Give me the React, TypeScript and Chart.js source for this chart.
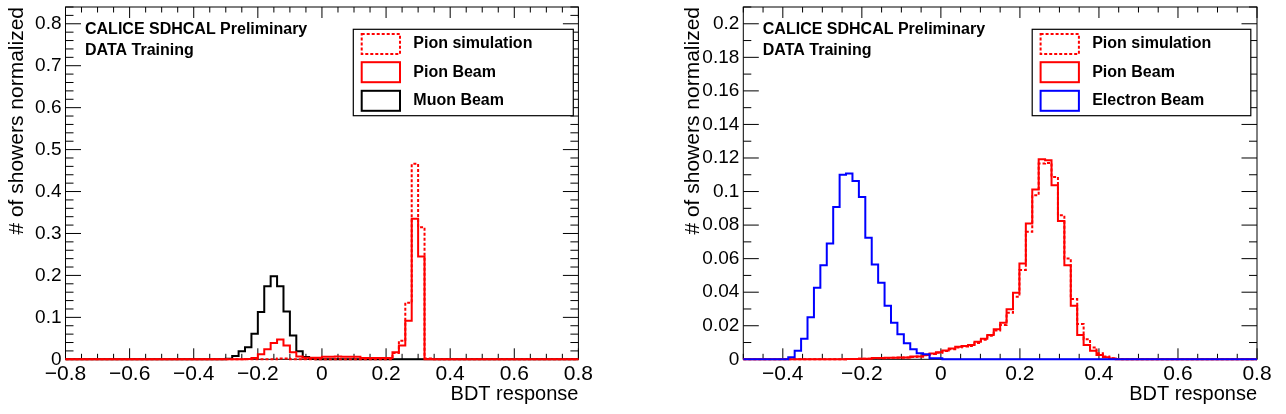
import Chart from 'chart.js/auto';
import { useEffect, useRef } from 'react';

// ---------- left pad : pion vs muon, 80 bins on [-0.8, 0.8] ----------
const leftXRange = [-0.8, 0.8];
const leftYMax = 0.84;
const leftXTicks = [-0.8, -0.6, -0.4, -0.2, 0, 0.2, 0.4, 0.6, 0.8];
const leftYTicks = [0, 0.1, 0.2, 0.3, 0.4, 0.5, 0.6, 0.7, 0.8];
const leftLegend = ['Pion simulation', 'Pion Beam', 'Muon Beam'];

const leftPionSim = [
  0, 0, 0, 0, 0, 0, 0, 0, 0, 0,
  0, 0, 0, 0, 0, 0, 0, 0, 0, 0,
  0, 0, 0, 0, 0, 0, 0, 0, 0, 0,
  0, 0, 0, 0.002, 0.002, 0, 0, 0, 0, 0,
  0, 0, 0, 0, 0, 0, 0, 0, 0, 0,
  0, 0.015, 0.044, 0.135, 0.466, 0.315, 0.002, 0, 0, 0,
  0, 0, 0, 0, 0, 0, 0, 0, 0, 0,
  0, 0, 0, 0, 0, 0, 0, 0, 0, 0,
];
const leftPionBeam = [
  0, 0, 0, 0, 0, 0, 0, 0, 0, 0,
  0, 0, 0, 0, 0, 0, 0, 0, 0, 0,
  0, 0, 0, 0, 0, 0, 0, 0, 0.0008, 0.003,
  0.012, 0.024, 0.039, 0.047, 0.033, 0.017, 0.0065, 0.0035, 0.0035, 0.0035,
  0.0063, 0.0063, 0.0064, 0.0062, 0.0063, 0.0063, 0.0032, 0.003, 0.003, 0.0031,
  0.003, 0.017, 0.033, 0.092, 0.335, 0.245, 0, 0, 0, 0,
  0, 0, 0, 0, 0, 0, 0, 0, 0, 0,
  0, 0, 0, 0, 0, 0, 0, 0, 0, 0,
];
const leftMuonBeam = [
  0, 0, 0, 0, 0, 0, 0, 0, 0, 0,
  0, 0, 0, 0, 0, 0, 0, 0, 0, 0,
  0, 0, 0, 0, 0, 0.0016, 0.0079, 0.019, 0.029, 0.061,
  0.113, 0.174, 0.198, 0.174, 0.114, 0.057, 0.019, 0.0056, 0.0016, 0,
  0, 0, 0, 0, 0, 0, 0, 0, 0, 0,
  0, 0, 0, 0, 0, 0, 0, 0, 0, 0,
  0, 0, 0, 0, 0, 0, 0, 0, 0, 0,
  0, 0, 0, 0, 0, 0, 0, 0, 0, 0,
];

// ---------- right pad : pion vs electron, 80 bins on [-0.5, 0.8] ----------
const rightXRange = [-0.5, 0.8];
const rightYMax = 0.21;
const rightXTicks = [-0.4, -0.2, 0, 0.2, 0.4, 0.6, 0.8];
const rightYTicks = [0, 0.02, 0.04, 0.06, 0.08, 0.1, 0.12, 0.14, 0.16, 0.18, 0.2];
const rightLegend = ['Pion simulation', 'Pion Beam', 'Electron Beam'];

const rightPionSim = [
  0, 0, 0, 0, 0, 0, 0, 0, 0, 0,
  0, 0, 0, 0, 0, 0, 0.0002, 0.0002, 0.0003, 0.0003,
  0.0007, 0.0007, 0.0008, 0.0009, 0.0009, 0.001, 0.0014, 0.0016, 0.0024, 0.0031,
  0.0039, 0.0049, 0.006, 0.0071, 0.0076, 0.008, 0.0097, 0.0117, 0.014, 0.0172,
  0.0205, 0.0277, 0.0373, 0.0532, 0.076, 0.0978, 0.1167, 0.117, 0.1087, 0.0859,
  0.0601, 0.0359, 0.021, 0.0119, 0.0071, 0.0036, 0.0016, 0.0006, 0.0002, 0,
  0, 0, 0, 0, 0, 0, 0, 0, 0, 0,
  0, 0, 0, 0, 0, 0, 0, 0, 0, 0,
];
const rightPionBeam = [
  0, 0, 0, 0, 0, 0, 0, 0, 0, 0,
  0, 0, 0, 0, 0, 0, 0.0002, 0.0002, 0.0003, 0.0003,
  0.0008, 0.0008, 0.0009, 0.0009, 0.001, 0.001, 0.0016, 0.0016, 0.0026, 0.0034,
  0.0042, 0.0052, 0.0065, 0.0075, 0.0079, 0.0085, 0.0105, 0.0123, 0.0145, 0.0179,
  0.0218, 0.0298, 0.0397, 0.0571, 0.081, 0.1012, 0.1192, 0.1186, 0.1037, 0.0825,
  0.0561, 0.0319, 0.0145, 0.0085, 0.0051, 0.0026, 0.0012, 0.0005, 0, 0,
  0, 0, 0, 0, 0, 0, 0, 0, 0, 0,
  0, 0, 0, 0, 0, 0, 0, 0, 0, 0,
];
const rightElectronBeam = [
  0, 0, 0, 0, 0, 0, 0, 0.0012, 0.0051, 0.0123,
  0.025, 0.0426, 0.0561, 0.069, 0.0908, 0.11, 0.1107, 0.1063, 0.0968, 0.0724,
  0.0565, 0.0456, 0.0319, 0.0218, 0.015, 0.0095, 0.006, 0.0036, 0.003, 0.0006,
  0.0006, 0, 0, 0, 0, 0, 0, 0, 0, 0,
  0, 0, 0, 0, 0, 0, 0, 0, 0, 0,
  0, 0, 0, 0, 0, 0, 0, 0, 0, 0,
  0, 0, 0, 0, 0, 0, 0, 0, 0, 0,
  0, 0, 0, 0, 0, 0, 0, 0, 0, 0,
];

const headerLines = ['CALICE SDHCAL Preliminary', 'DATA Training'];
const xTitle = 'BDT response';
const yTitle = '# of showers normalized';

const FONT = "'Liberation Sans', Arial, Helvetica, sans-serif";

type Series = { label: string; values: number[]; color: string; dashed: boolean; order: number };

type PanelCfg = {
  canvasLeft: number;
  canvasWidth: number;
  areaLeft: number; // width of the y axis box
  padRight: number;
  xRange: number[];
  yMax: number;
  xTicks: number[];
  yTicks: number[];
  xMinor: number;
  yMinor: number;
  series: Series[];
  legendWidth: number;
  legendInset: number;
};

// histogram outline: one point per lower bin edge, closing point at the upper edge
const toSteps = (values: number[], lo: number, hi: number) => {
  const w = (hi - lo) / values.length;
  const pts = values.map((v, i) => ({ x: lo + i * w, y: v }));
  pts.push({ x: hi, y: 0 });
  return pts;
};

const fmtTick = (v: number) => {
  const r = Math.round(v * 1000) / 1000;
  if (r === 0) return '0';
  return (r < 0 ? '\u2212' : '') + String(Math.abs(r));
};

const makeOverlay = (cfg: PanelCfg) => ({
  id: 'rootOverlay',
  beforeDatasetsDraw(chart: any) {
    const { ctx, chartArea: a } = chart;
    const sx = chart.scales.x;
    const sy = chart.scales.y;
    const near = (v: number, list: number[]) => list.some((m) => Math.abs(m - v) < 1e-6);
    ctx.save();
    ctx.strokeStyle = '#000';
    ctx.lineWidth = 1;
    ctx.setLineDash([]);
    ctx.beginPath();
    // ticks along bottom / top (inside the frame)
    for (let n = Math.ceil(sx.min / cfg.xMinor - 1e-6); n * cfg.xMinor <= sx.max + 1e-6; n++) {
      const v = n * cfg.xMinor;
      const px = sx.getPixelForValue(v);
      const len = near(v, cfg.xTicks) ? 11 : 5.5;
      ctx.moveTo(px, a.bottom);
      ctx.lineTo(px, a.bottom - len);
      ctx.moveTo(px, a.top);
      ctx.lineTo(px, a.top + len);
    }
    // ticks along left / right
    for (let n = 0; n * cfg.yMinor <= sy.max + 1e-6; n++) {
      const v = n * cfg.yMinor;
      const py = sy.getPixelForValue(v);
      const len = near(v, cfg.yTicks) ? 15.5 : 8;
      ctx.moveTo(a.left, py);
      ctx.lineTo(a.left + len, py);
      ctx.moveTo(a.right, py);
      ctx.lineTo(a.right - len, py);
    }
    ctx.stroke();
    ctx.strokeRect(a.left, a.top, a.right - a.left, a.bottom - a.top);
    ctx.restore();
  },
  afterDraw(chart: any) {
    const { ctx, chartArea: a } = chart;
    ctx.save();
    ctx.fillStyle = '#000';
    ctx.font = `bold 16px ${FONT}`;
    ctx.textBaseline = 'middle';
    ctx.textAlign = 'left';
    ctx.fillText(headerLines[0], a.left + 19.5, 29.2);
    ctx.fillText(headerLines[1], a.left + 19.5, 50.3);

    // legend
    const bx = a.right - cfg.legendInset - cfg.legendWidth;
    const by = 29.3;
    ctx.fillStyle = '#fff';
    ctx.fillRect(bx, by, cfg.legendWidth, 86.4);
    ctx.strokeStyle = '#000';
    ctx.lineWidth = 1.2;
    ctx.strokeRect(bx, by, cfg.legendWidth, 86.4);
    const rowY = [14.7, 42.9, 71.5];
    cfg.series.forEach((s, i) => {
      const cy = by + rowY[i];
      ctx.strokeStyle = s.color;
      ctx.lineWidth = 2;
      ctx.setLineDash(s.dashed ? [3, 2] : []);
      ctx.strokeRect(bx + 8.4, cy - 10, 38.3, 20);
      ctx.setLineDash([]);
      ctx.fillStyle = '#000';
      ctx.fillText(s.label, bx + 60, cy);
    });
    ctx.restore();
  },
});

const Panel = ({ cfg }: { cfg: PanelCfg }) => {
  const chartRef = useRef<HTMLCanvasElement | null>(null);

  useEffect(() => {
    if (!chartRef.current) return;
    const [lo, hi] = cfg.xRange;

    const chartInstance = new Chart(chartRef.current, {
      type: 'line',
      data: {
        datasets: cfg.series.map((s) => ({
          label: s.label,
          data: toSteps(s.values, lo, hi),
          borderColor: s.color,
          borderWidth: 2,
          borderDash: s.dashed ? [3, 2] : [],
          stepped: 'before', // horizontal at the bin value, then the vertical edge
          pointRadius: 0,
          fill: false,
          clip: false,
          order: s.order,
        })),
      },
      options: {
        animation: false,
        responsive: false,
        maintainAspectRatio: false,
        layout: { padding: { top: 7, right: cfg.padRight, bottom: 0, left: 0 } },
        plugins: {
          legend: { display: false },
          tooltip: { enabled: false },
        },
        scales: {
          x: {
            type: 'linear',
            min: lo,
            max: hi,
            bounds: 'data',
            grid: { display: false, drawTicks: false },
            border: { display: false },
            afterBuildTicks: (scale: any) => {
              scale.ticks = cfg.xTicks.map((value) => ({ value }));
            },
            afterFit: (scale: any) => {
              scale.height = 54.7;
              scale.paddingLeft = 0;
              scale.paddingRight = 0;
            },
            ticks: {
              color: '#000',
              font: { family: FONT, size: 21 },
              padding: 2,
              autoSkip: false,
              maxRotation: 0,
              minRotation: 0,
              callback: (v: any) => fmtTick(Number(v)),
            },
            title: {
              display: true,
              text: xTitle,
              align: 'end',
              color: '#000',
              font: { family: FONT, size: 20 },
              padding: { top: 0, bottom: 8 },
            },
          },
          y: {
            type: 'linear',
            min: 0,
            max: cfg.yMax,
            bounds: 'data',
            grid: { display: false, drawTicks: false },
            border: { display: false },
            afterBuildTicks: (scale: any) => {
              scale.ticks = cfg.yTicks.map((value) => ({ value }));
            },
            afterFit: (scale: any) => {
              scale.width = cfg.areaLeft;
              scale.paddingTop = 0;
              scale.paddingBottom = 0;
            },
            ticks: {
              color: '#000',
              font: { family: FONT, size: 19 },
              padding: 4,
              autoSkip: false,
              callback: (v: any) => fmtTick(Number(v)),
            },
            title: {
              display: true,
              text: yTitle,
              align: 'end',
              color: '#000',
              font: { family: FONT, size: 21 },
              padding: { top: 5, bottom: 0 },
            },
          },
        },
      },
      plugins: [makeOverlay(cfg)],
    } as any);

    return () => {
      chartInstance.destroy();
    };
  }, [cfg]);

  return (
    <canvas
      ref={chartRef}
      width={cfg.canvasWidth}
      height={414}
      style={{ position: 'absolute', left: cfg.canvasLeft, top: 0, width: cfg.canvasWidth, height: 414 }}
    ></canvas>
  );
};

const leftCfg: PanelCfg = {
  canvasLeft: 0,
  canvasWidth: 640,
  areaLeft: 65.5,
  padRight: 61.6,
  xRange: leftXRange,
  yMax: leftYMax,
  xTicks: leftXTicks,
  yTicks: leftYTicks,
  xMinor: 0.05,
  yMinor: 0.02,
  series: [
    { label: leftLegend[0], values: leftPionSim, color: '#ff0000', dashed: true, order: 2 },
    { label: leftLegend[1], values: leftPionBeam, color: '#ff0000', dashed: false, order: 1 },
    { label: leftLegend[2], values: leftMuonBeam, color: '#000000', dashed: false, order: 3 },
  ],
  legendWidth: 220,
  legendInset: 5.1,
};

const rightCfg: PanelCfg = {
  canvasLeft: 676,
  canvasWidth: 610,
  areaLeft: 67.3,
  padRight: 29,
  xRange: rightXRange,
  yMax: rightYMax,
  xTicks: rightXTicks,
  yTicks: rightYTicks,
  xMinor: 0.05,
  yMinor: 0.01,
  series: [
    { label: rightLegend[0], values: rightPionSim, color: '#ff0000', dashed: true, order: 2 },
    { label: rightLegend[1], values: rightPionBeam, color: '#ff0000', dashed: false, order: 3 },
    { label: rightLegend[2], values: rightElectronBeam, color: '#0000ff', dashed: false, order: 1 },
  ],
  legendWidth: 218.6,
  legendInset: 6.2,
};

const App = () => (
  <div style={{ position: 'absolute', left: 0, top: 0, width: 1286, height: 414, background: '#fff' }}>
    <Panel cfg={leftCfg} />
    <Panel cfg={rightCfg} />
  </div>
);

export default App;
